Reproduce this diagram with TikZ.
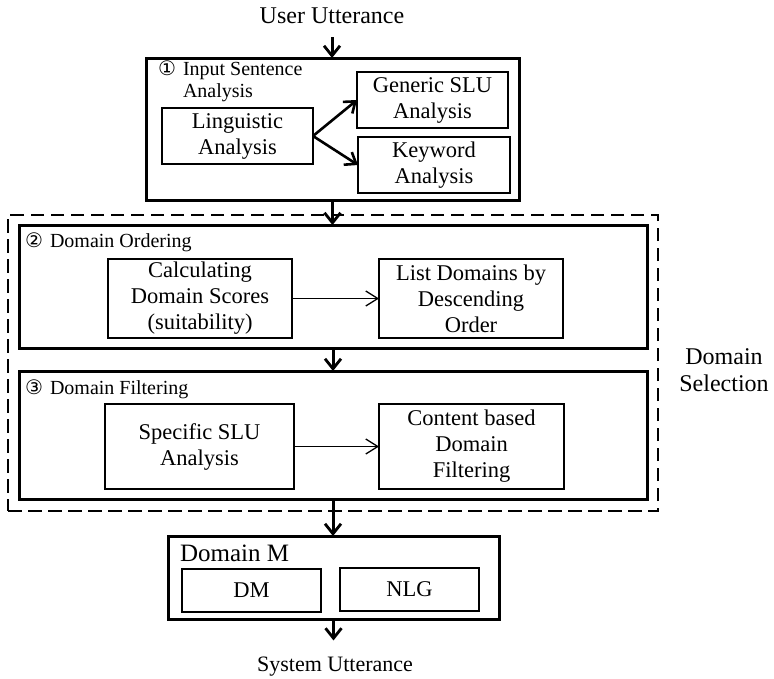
\documentclass[tikz,border=0pt]{standalone}
\usepackage{fontspec}
\setmainfont{Liberation Serif}
\newfontfamily\circfont{DejaVu Sans}
\usetikzlibrary{arrows.meta}

\begin{document}
\begin{tikzpicture}[x=1pt,y=-1pt,
  every node/.style={inner sep=0pt, outer sep=0pt, text=black},
  frame/.style={draw, line width=3pt},
  selbox/.style={draw, line width=2.9pt, dash pattern=on 13.5pt off 6.5pt},
  box/.style={draw, line width=1.8pt, align=center, font=\fontsize{22.5}{26}\selectfont},
  steplabel/.style={anchor=base west, font=\fontsize{20}{22}\selectfont, align=left},
  stepnum/.style={anchor=base west, font=\circfont\fontsize{20}{22}\selectfont},
  flow/.style={line width=3pt, -{Straight Barb[length=10pt,width=16pt,line width=2.8pt]}},
  fork/.style={line width=2.6pt, -{Straight Barb[length=10pt,width=15pt,line width=2.6pt]}},
  link/.style={line width=1.3pt, -{Straight Barb[length=12pt,width=15pt,line width=1.3pt]}}
]
\useasboundingbox[fill=white] (0,0) rectangle (774,678);

% outer containers
\node[selbox, minimum width=650pt, minimum height=296pt] (sel) at (333,363) {};
\node[frame, minimum width=373pt, minimum height=142pt] (inp) at (332.5,129) {};
\node[frame, minimum width=628pt, minimum height=123pt] (ord) at (333,286.5) {};
\node[frame, minimum width=628pt, minimum height=128pt] (filt) at (333,435) {};
\node[frame, minimum width=331pt, minimum height=83pt] (domm) at (333.5,577.5) {};

% container titles (a multi-line label sits on the baseline of its last line)
\node[stepnum] (n1) at (158,75) {①};
\node[steplabel] (t1) at (183,97) {Input Sentence\\Analysis};
\node[stepnum] (n2) at (25,247) {②};
\node[steplabel] (t2) at (50,247) {Domain Ordering};
\node[stepnum] (n3) at (25,394) {③};
\node[steplabel] (t3) at (50,394) {Domain Filtering};
\node[anchor=base west, font=\fontsize{25}{28}\selectfont] (tm) at (180,561) {Domain M};

% inner boxes
\node[box, minimum width=151pt, minimum height=56pt] (ling) at (237.5,136) {Linguistic\\Analysis};
\node[box, minimum width=151pt, minimum height=56pt] (gen) at (432.5,100) {Generic SLU\\Analysis};
\node[box, minimum width=152pt, minimum height=56pt] (keyw) at (434,165) {Keyword\\Analysis};
\node[box, minimum width=184pt, minimum height=79pt] (calc) at (200,298.5) {Calculating\\Domain Scores\\(suitability)};
\node[box, minimum width=184pt, minimum height=79pt] (list) at (471,298.5) {List Domains by\\Descending\\Order};
\node[box, minimum width=189pt, minimum height=85pt] (spec) at (199.5,446.5) {Specific SLU\\Analysis};
\node[box, minimum width=185pt, minimum height=85pt] (cont) at (471.5,446.5) {Content based\\Domain\\Filtering};
\node[box, minimum width=139pt, minimum height=43pt] (dmbox) at (251.5,590.5) {DM};
\node[box, minimum width=139pt, minimum height=43pt] (nlg) at (409.5,589.5) {NLG};

% outside labels
\node[anchor=base, font=\fontsize{24}{28}\selectfont] (user) at (332,23) {User Utterance};
\node[anchor=base, font=\fontsize{22}{26}\selectfont] (sys) at (335,671) {System Utterance};
\node[align=center, font=\fontsize{24}{27}\selectfont] (seltxt) at (724,370) {Domain\\Selection};

% connectors
\draw[flow, shorten <=14pt] (user.south) -- (user.south |- inp.north);
\draw[flow] (inp.south) -- (inp.south |- ord.north);
\draw[flow] (ord.south) -- (ord.south |- filt.north);
\draw[flow] (filt.south) -- (filt.south |- domm.north);
\draw[flow, shorten >=16pt] (domm.south) -- (domm.south |- sys.north);
\draw[fork] (ling.east) -- (gen.west);
\draw[fork] (ling.east) -- (keyw.west);
\draw[link] (calc.east) -- (list.west);
\draw[link] (spec.east) -- (cont.west);
\end{tikzpicture}
\end{document}
